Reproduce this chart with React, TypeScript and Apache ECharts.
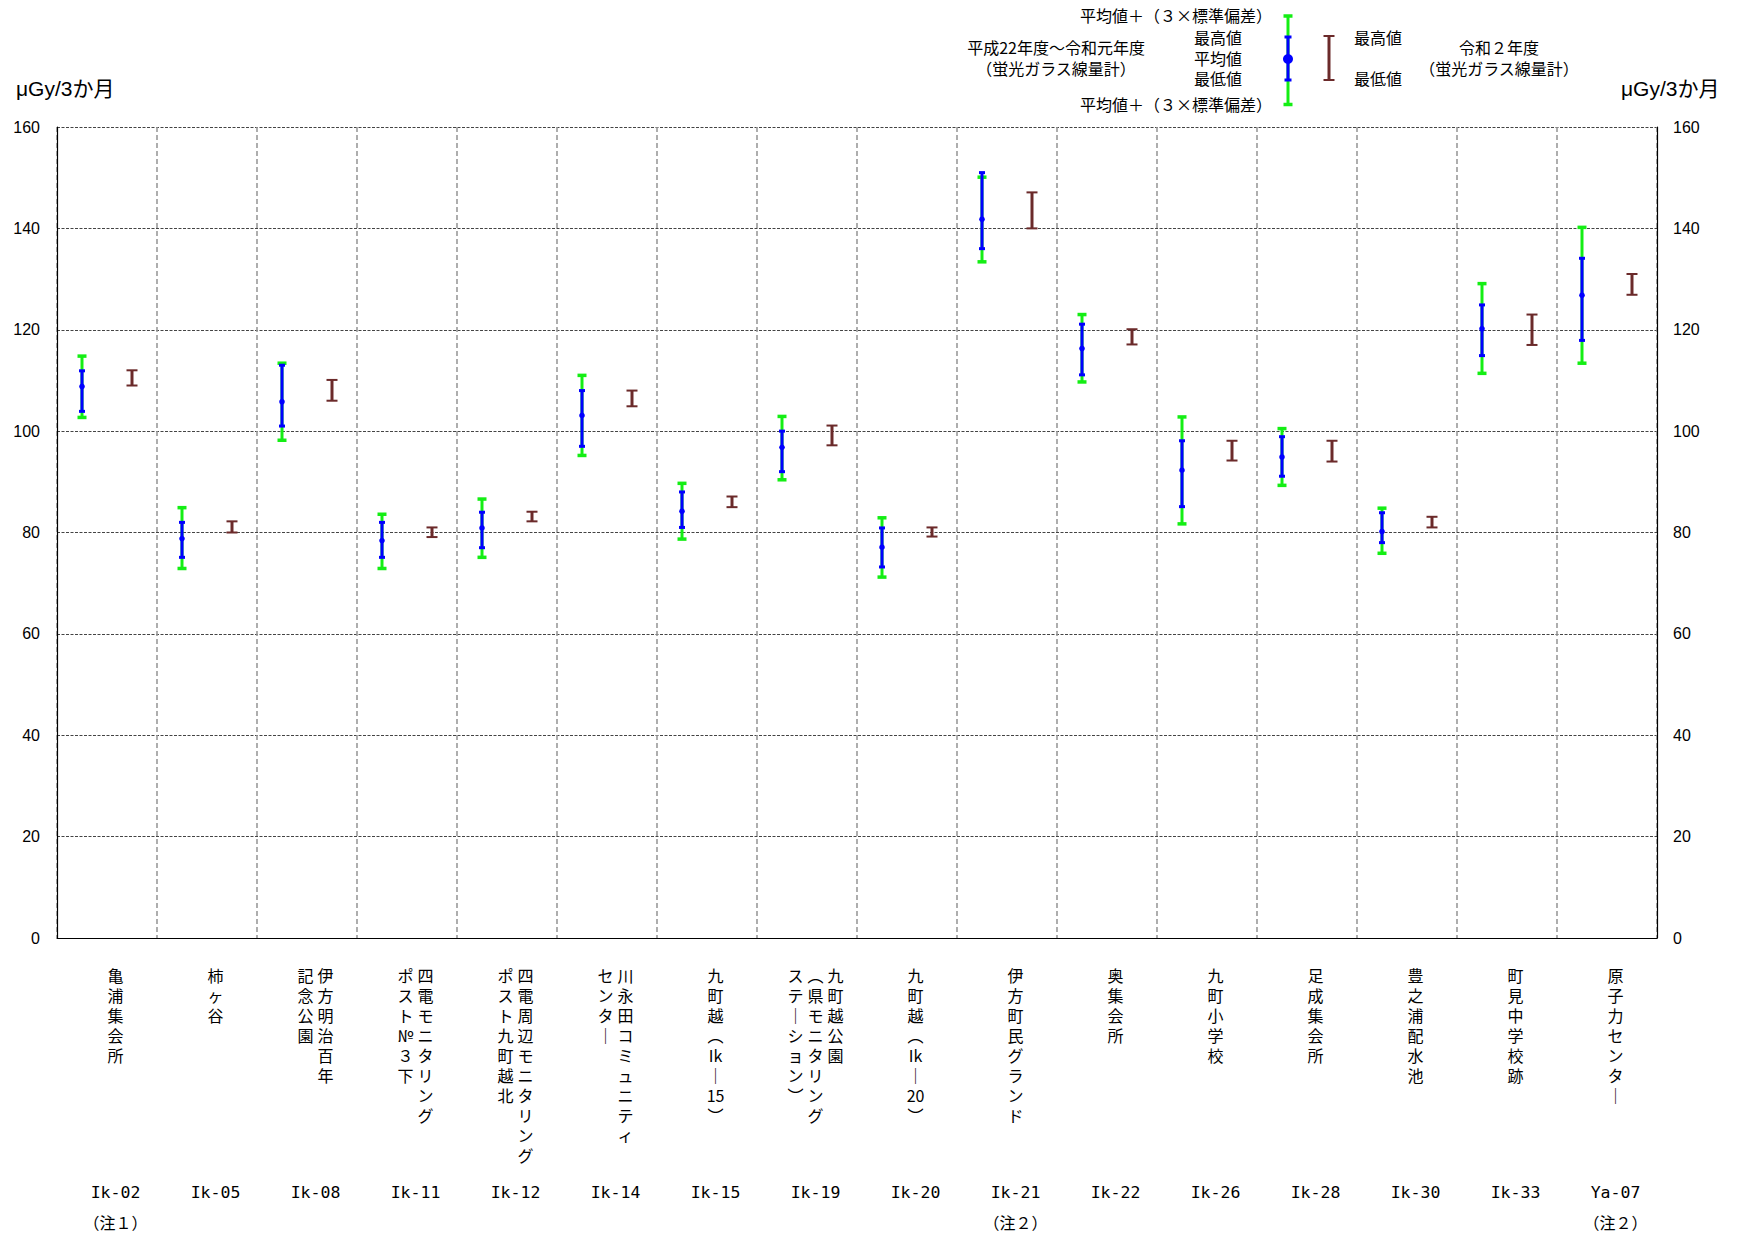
import React, { useEffect, useRef } from "react";
import * as echarts from "echarts";

// ---- data ----
const categories = ["Ik-02", "Ik-05", "Ik-08", "Ik-11", "Ik-12", "Ik-14", "Ik-15", "Ik-19", "Ik-20", "Ik-21", "Ik-22", "Ik-26", "Ik-28", "Ik-30", "Ik-33", "Ya-07"];
const notes = ["（注１）", "", "", "", "", "", "", "", "", "（注２）", "", "", "", "", "", "（注２）"];
// station names, columns listed right-to-left (vertical writing)
const stationNames: string[][] = [
  ["亀浦集会所"],
  ["柿ヶ谷"],
  ["伊方明治百年", "記念公園"],
  ["四電モニタリング", "ポスト№３下"],
  ["四電周辺モニタリング", "ポスト九町越北"],
  ["川永田コミュニティ", "センター"],
  ["九町越（Ik－15）"],
  ["九町越公園", "（県モニタリング", "ステーション）"],
  ["九町越（Ik－20）"],
  ["伊方町民グランド"],
  ["奥集会所"],
  ["九町小学校"],
  ["足成集会所"],
  ["豊之浦配水池"],
  ["町見中学校跡"],
  ["原子力センター"],
];
// 平成22年度～令和元年度
const histUpper = [114.8, 84.9, 113.4, 83.6, 86.6, 111.0, 89.7, 102.9, 82.9, 150.1, 123.0, 102.8, 100.5, 84.8, 129.1, 140.2];
const histMax = [111.9, 82.0, 113.0, 82.0, 84.0, 108.0, 88.0, 100.0, 80.9, 151.0, 121.1, 98.1, 98.9, 83.9, 124.9, 134.1];
const histMean = [108.8, 78.8, 105.8, 78.4, 80.9, 103.1, 84.2, 96.8, 77.1, 141.8, 116.3, 92.3, 94.9, 80.2, 120.2, 126.8];
const histMin = [103.9, 75.1, 101.0, 75.1, 77.0, 97.0, 81.0, 92.0, 73.2, 136.0, 111.1, 85.1, 91.1, 78.0, 114.9, 117.9];
const histLower = [102.7, 72.9, 98.2, 72.9, 75.1, 95.2, 78.7, 90.4, 71.2, 133.4, 109.7, 81.7, 89.3, 75.9, 111.4, 113.4];
// 令和２年度
const r2Max = [112.0, 82.2, 110.1, 81.0, 84.1, 108.0, 87.1, 101.1, 81.0, 147.1, 120.1, 98.1, 98.1, 83.1, 123.0, 131.0];
const r2Min = [109.0, 80.0, 106.0, 79.1, 82.2, 104.9, 85.0, 97.2, 79.2, 140.0, 117.1, 94.2, 94.0, 81.0, 117.0, 126.9];
const yMin = 0;
const yMax = 160;
const yStep = 20;
const unitLabel = "μGy/3か月";

const GREEN = "#14ee14";
const BLUE = "#0000ff";
const BROWN = "#6b2a2a";
const JP = "'Noto Sans CJK JP', sans-serif";
const MONO = "'DejaVu Sans Mono', 'Liberation Mono', monospace";
const LAT = "'Liberation Sans', Arial, sans-serif";
const ROWS = 10;

const VERT: Record<string, string> = { "（": "︵", "）": "︶", "ー": "｜", "－": "｜" };
function toCells(s: string): string[] {
  const out: string[] = [];
  let buf = "";
  for (const ch of s) {
    if (/[A-Za-z0-9]/.test(ch)) { buf += ch; continue; }
    if (buf) { out.push(buf); buf = ""; }
    out.push(VERT[ch] ?? ch);
  }
  if (buf) out.push(buf);
  return out;
}

export default function App() {
  const ref = useRef<HTMLDivElement>(null);
  useEffect(() => {
    if (!ref.current) return;
    const chart = echarts.init(ref.current, undefined, { renderer: "svg" });

    const histData = histMean.map((m, i) => [i, histUpper[i], histMax[i], m, histMin[i], histLower[i]]);
    const r2Data = r2Max.map((v, i) => [i, v, r2Min[i]]);

    const txt = (text: string, x: number, y: number, align: string = "center", size = 16, font = JP) => ({
      type: "text",
      x, y,
      style: { text, fill: "#000", font: `${size}px ${font}`, textAlign: align, textVerticalAlign: "middle" },
    });
    const ln = (x1: number, y1: number, x2: number, y2: number, stroke: string, w: number) => ({
      type: "line", shape: { x1, y1, x2, y2 }, style: { stroke, lineWidth: w },
    });

    const option: any = {
      animation: false,
      textStyle: { fontFamily: JP },
      grid: { left: 57, right: 90, top: 127, bottom: 299, containLabel: false },
      xAxis: {
        type: "category",
        data: categories,
        boundaryGap: true,
        axisLine: { show: true, lineStyle: { color: "#000", width: 1 } },
        axisTick: { show: false },
        splitLine: { show: true, interval: 0, lineStyle: { color: "#9a9a9a", width: 1.6, type: [5, 3] } },
        axisLabel: {
          interval: 0,
          margin: 27,
          verticalAlign: "top",
          align: "center",
          padding: [0, 0, 0, 17],
          color: "#000",
          formatter: (value: string, index: number) => {
            const cols = stationNames[index].map(toCells);
            const rows: string[] = [];
            for (let r = 0; r < ROWS; r++) {
              let line = "";
              for (let j = cols.length - 1; j >= 0; j--) line += `{c|${cols[j][r] ?? "　"}}`;
              rows.push(line);
            }
            rows.push("{sp| }");
            rows.push(`{code|${value}}`);
            rows.push(`{note|${notes[index] || "　"}}`);
            return rows.join("\n");
          },
          rich: {
            c: { width: 20, align: "center", fontSize: 16, lineHeight: 20, fontFamily: JP, color: "#000" },
            sp: { fontSize: 1, lineHeight: 12 },
            code: { align: "center", fontSize: 16.5, lineHeight: 30, fontFamily: MONO, fontWeight: "normal", color: "#000" },
            note: { align: "center", fontSize: 16, lineHeight: 30, fontFamily: JP, fontWeight: "normal", color: "#000" },
          },
        },
      },
      yAxis: [
        {
          type: "value", min: yMin, max: yMax, interval: yStep, position: "left",
          axisLine: { show: true, lineStyle: { color: "#000", width: 1.2 } },
          axisTick: { show: false },
          axisLabel: { margin: 17, fontSize: 16, color: "#000", fontFamily: LAT },
          splitLine: { show: true, lineStyle: { color: "#444", width: 1, type: [3, 1.5] } },
        },
        {
          type: "value", min: yMin, max: yMax, interval: yStep, position: "right",
          axisLine: { show: true, lineStyle: { color: "#000", width: 1.2 } },
          axisTick: { show: false },
          axisLabel: { margin: 16, fontSize: 16, color: "#000", fontFamily: LAT },
          splitLine: { show: false },
        },
      ],
      series: [
        {
          type: "custom",
          name: "hist",
          xAxisIndex: 0, yAxisIndex: 0,
          encode: { x: 0, y: [1, 2, 3, 4, 5] },
          data: histData,
          z: 5,
          renderItem: (params: any, api: any) => {
            const i = api.value(0);
            const bw = api.size([1, 0])[0];
            const cx = api.coord([i, api.value(3)])[0] - bw * 0.25;
            const yU = api.coord([i, api.value(1)])[1];
            const yMx = api.coord([i, api.value(2)])[1];
            const yMe = api.coord([i, api.value(3)])[1];
            const yMn = api.coord([i, api.value(4)])[1];
            const yL = api.coord([i, api.value(5)])[1];
            const gs = { stroke: GREEN, lineWidth: 3 };
            const bs = { stroke: BLUE, lineWidth: 3 };
            return {
              type: "group",
              children: [
                { type: "line", shape: { x1: cx, y1: yU, x2: cx, y2: yL }, style: gs },
                { type: "line", shape: { x1: cx - 4.5, y1: yU, x2: cx + 4.5, y2: yU }, style: { stroke: GREEN, lineWidth: 3.5 } },
                { type: "line", shape: { x1: cx - 4.5, y1: yL, x2: cx + 4.5, y2: yL }, style: { stroke: GREEN, lineWidth: 3.5 } },
                { type: "line", shape: { x1: cx, y1: yMx, x2: cx, y2: yMn }, style: bs },
                { type: "line", shape: { x1: cx - 3, y1: yMx, x2: cx + 3, y2: yMx }, style: bs },
                { type: "line", shape: { x1: cx - 3, y1: yMn, x2: cx + 3, y2: yMn }, style: bs },
                { type: "circle", shape: { cx, cy: yMe, r: 2.8 }, style: { fill: BLUE } },
              ],
            };
          },
        },
        {
          type: "custom",
          name: "r2",
          xAxisIndex: 0, yAxisIndex: 0,
          encode: { x: 0, y: [1, 2] },
          data: r2Data,
          z: 5,
          renderItem: (params: any, api: any) => {
            const i = api.value(0);
            const bw = api.size([1, 0])[0];
            const cx = api.coord([i, api.value(1)])[0] + bw * 0.25;
            const yT = api.coord([i, api.value(1)])[1];
            const yB = api.coord([i, api.value(2)])[1];
            const s = { stroke: BROWN, lineWidth: 3 };
            return {
              type: "group",
              children: [
                { type: "line", shape: { x1: cx, y1: yT, x2: cx, y2: yB }, style: s },
                { type: "line", shape: { x1: cx - 5.5, y1: yT, x2: cx + 5.5, y2: yT }, style: { stroke: BROWN, lineWidth: 2 } },
                { type: "line", shape: { x1: cx - 5.5, y1: yB, x2: cx + 5.5, y2: yB }, style: { stroke: BROWN, lineWidth: 2 } },
              ],
            };
          },
        },
      ],
      graphic: [
        txt(unitLabel, 16, 88, "left", 21, `${LAT}, ${JP}`),
        txt(unitLabel, 1621, 88, "left", 21, `${LAT}, ${JP}`),
        // legend
        txt("平均値＋（３×標準偏差）", 1272, 15, "right"),
        txt("平均値＋（３×標準偏差）", 1272, 104, "right"),
        txt("最高値", 1218, 37),
        txt("平均値", 1218, 58),
        txt("最低値", 1218, 78),
        txt("平成22年度～令和元年度", 1056, 47),
        txt("（蛍光ガラス線量計）", 1056, 68),
        ln(1288, 16, 1288, 104.5, GREEN, 3),
        ln(1283.5, 16, 1292.5, 16, GREEN, 3.5),
        ln(1283.5, 104.5, 1292.5, 104.5, GREEN, 3.5),
        ln(1288, 37, 1288, 80, BLUE, 3),
        ln(1284.5, 37, 1291.5, 37, BLUE, 3),
        ln(1284.5, 80, 1291.5, 80, BLUE, 3),
        { type: "circle", shape: { cx: 1288, cy: 59, r: 5 }, style: { fill: BLUE } },
        ln(1329, 36, 1329, 80, BROWN, 3),
        ln(1323.5, 36, 1334.5, 36, BROWN, 2),
        ln(1323.5, 80, 1334.5, 80, BROWN, 2),
        txt("最高値", 1378, 37),
        txt("最低値", 1378, 78),
        txt("令和２年度", 1499, 47),
        txt("（蛍光ガラス線量計）", 1499, 68),
      ],
    };
    chart.setOption(option);
    return () => chart.dispose();
  }, []);
  return (
    <div
      ref={ref}
      style={{ position: "absolute", left: 0, top: 0, width: 1747, height: 1237, background: "#fff" }}
    />
  );
}
